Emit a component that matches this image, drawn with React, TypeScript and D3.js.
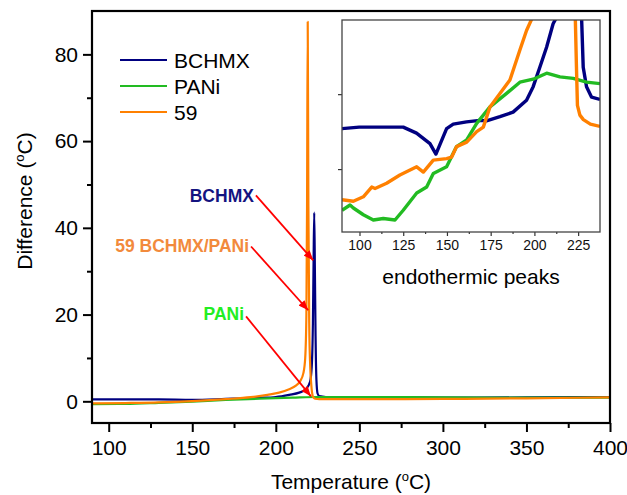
import { useEffect, useRef } from "react";
import * as d3 from "d3";

const W = 627;
const H = 495;
const FONT = "'Liberation Sans', Arial, sans-serif";

// main DTA curves: temperature (°C) and difference (°C)
const bchmxT = [90, 110, 130, 150, 170, 190, 200, 208, 214, 218, 220.5, 221.5, 222.2, 222.6, 223.0, 223.4, 223.8, 224.3, 225, 226, 230, 250, 300, 350, 400];
const bchmxV = [0.45, 0.45, 0.45, 0.35, 0.55, 0.8, 1.0, 1.5, 2.0, 2.8, 4.5, 8, 18, 32, 43.5, 30, 15, 5, 1.8, 1.2, 1.0, 1.0, 0.85, 0.9, 1.0];

const paniT = [90, 110, 130, 150, 170, 190, 210, 225, 250, 300, 350, 400];
const paniV = [-0.65, -0.6, -0.35, -0.05, 0.3, 0.6, 0.85, 1.0, 1.0, 0.9, 0.85, 0.85];

const s59T = [90, 110, 130, 150, 170, 185, 195, 202, 208, 212, 214.5, 216.5, 217.6, 218.3, 218.7, 219.1, 219.5, 220.0, 220.6, 221.2, 221.7, 222.3, 223.5, 226, 240, 270, 300, 350, 400];
const s59V = [-0.5, -0.4, -0.25, 0.05, 0.5, 0.95, 1.5, 2.0, 2.8, 3.6, 4.6, 6.5, 10, 20, 45, 87.5, 45, 18, 8, 4, 2, 1.0, 0.6, 0.5, 0.5, 0.5, 0.55, 0.7, 0.9];

// inset (endothermic peaks), arbitrary units
const inBchmxT = [90, 99.8, 114.5, 125, 132.6, 140.3, 143.7, 149.8, 153.6, 161.2, 168.8, 172.6, 180.3, 187.8, 195.5, 199.3, 203.1, 207, 210.7, 212.3, 220, 227, 227.9, 229.8, 232.7, 237.5];
const inBchmxV = [1.54, 1.56, 1.56, 1.56, 1.48, 1.34, 1.2, 1.54, 1.6, 1.63, 1.65, 1.645, 1.7, 1.76, 1.92, 2.1, 2.36, 2.63, 2.94, 3.01, 30, 3.0, 2.36, 2.1, 1.96, 1.93];

const inPaniT = [90, 94.6, 96.5, 102.2, 107.9, 113.6, 120.3, 125, 132.7, 138.4, 142.2, 149.8, 155.5, 161.3, 167, 174.6, 184.1, 191.7, 199.3, 207, 214.6, 222.2, 229.8, 237.5];
const inPaniV = [0.45, 0.52, 0.48, 0.39, 0.32, 0.34, 0.32, 0.45, 0.68, 0.76, 0.94, 1.03, 1.3, 1.39, 1.61, 1.83, 2.01, 2.16, 2.2, 2.28, 2.23, 2.21, 2.16, 2.14];

const in59T = [90, 96.5, 102.2, 107, 108.9, 115.5, 123.1, 132.7, 136.5, 142.2, 149.8, 152.7, 155.5, 161.3, 167, 170.8, 174.6, 180.3, 186, 191.7, 195.5, 198.4, 210, 223.3, 224, 224.6, 226, 228, 232, 237.5];
const in59V = [0.59, 0.57, 0.63, 0.76, 0.74, 0.81, 0.92, 1.03, 0.96, 1.12, 1.14, 1.16, 1.3, 1.36, 1.5, 1.56, 1.83, 2.01, 2.19, 2.59, 2.85, 3.0, 30, 3.1, 2.4, 1.85, 1.72, 1.66, 1.6, 1.57];

const seriesNames = ["BCHMX", "PANi", "59"];
const seriesColors = ["#000080", "#22bb22", "#ff8000"];

const xTicks = [100, 150, 200, 250, 300, 350, 400];
const xMinorTicks = [125, 175, 225, 275, 325, 375];
const yTicks = [0, 20, 40, 60, 80];
const yMinorTicks = [10, 30, 50, 70];
const insetXTicks = [100, 125, 150, 175, 200, 225];
const insetXMinorTicks = [112.5, 137.5, 162.5, 187.5, 212.5];
const insetYTicks = [1, 2];

// labels with arrows, in data units of the main plot
const annotations = [
  { label: "BCHMX", color: "#141480", tx: 186.9, ty: 45.9, fromT: 188.1, fromV: 47.5, toT: 222.4, toV: 32.5 },
  { label: "59 BCHMX/PANi", color: "#f28a3c", tx: 184.0, ty: 34.4, fromT: 185.2, fromV: 35.7, toT: 219.4, toV: 21.0 },
  { label: "PANi", color: "#22ee22", tx: 181.0, ty: 18.7, fromT: 182.2, fromV: 19.6, toT: 221.0, toV: 1.15 },
];

const App = () => {
  const canvas = useRef(null);

  useEffect(() => {
    document.body.style.margin = "0";
    drawChart();
  }, []);

  const drawChart = () => {
    d3.select(canvas.current).selectAll("*").remove();

    const svg = d3
      .select(canvas.current)
      .append("svg")
      .attr("width", W)
      .attr("height", H)
      .style("display", "block")
      .style("background", "white")
      .attr("font-family", FONT);

    const x = d3.scaleLinear().domain([90, 400]).range([92, 610]);
    const y = d3.scaleLinear().domain([-5, 90]).range([423, 11]);

    const defs = svg.append("defs");
    defs
      .append("clipPath")
      .attr("id", "mainClip")
      .append("rect")
      .attr("x", x(90))
      .attr("y", y(90))
      .attr("width", x(400) - x(90))
      .attr("height", y(-5) - y(90));
    defs
      .append("marker")
      .attr("id", "arrow")
      .attr("markerUnits", "userSpaceOnUse")
      .attr("viewBox", "0 0 10 8")
      .attr("refX", 10)
      .attr("refY", 4)
      .attr("markerWidth", 11)
      .attr("markerHeight", 8)
      .attr("orient", "auto")
      .append("path")
      .attr("d", "M0,0 L10,4 L0,8 z")
      .attr("fill", "#ff0000");

    // Axes
    const styleAxis = (g, fontSize) => {
      g.select(".domain").remove();
      g.selectAll(".tick line").attr("stroke", "black").attr("stroke-width", 2);
      g.selectAll(".tick text")
        .attr("fill", "black")
        .attr("font-size", fontSize)
        .attr("font-family", FONT);
    };

    svg
      .append("g")
      .attr("transform", `translate(0, ${y(-5)})`)
      .call(d3.axisBottom(x).tickValues(xTicks).tickSize(9).tickPadding(8).tickFormat(d3.format("d")))
      .call((g) => styleAxis(g, 21));
    svg
      .append("g")
      .attr("transform", `translate(0, ${y(-5)})`)
      .call(d3.axisBottom(x).tickValues(xMinorTicks).tickSize(5).tickFormat(() => ""))
      .call((g) => styleAxis(g, 21));
    svg
      .append("g")
      .attr("transform", `translate(${x(90)}, 0)`)
      .call(d3.axisLeft(y).tickValues(yTicks).tickSize(9).tickPadding(5).tickFormat(d3.format("d")))
      .call((g) => styleAxis(g, 21));
    svg
      .append("g")
      .attr("transform", `translate(${x(90)}, 0)`)
      .call(d3.axisLeft(y).tickValues(yMinorTicks).tickSize(5).tickFormat(() => ""))
      .call((g) => styleAxis(g, 21));

    // Axis titles
    const xt = svg
      .append("text")
      .attr("x", (x(90) + x(400)) / 2)
      .attr("y", 489)
      .attr("text-anchor", "middle")
      .attr("font-size", 21);
    xt.append("tspan").text("Temperature (");
    xt.append("tspan").attr("font-size", 13).attr("dy", -8).text("o");
    xt.append("tspan").attr("dy", 8).text("C)");

    const yt = svg
      .append("text")
      .attr("transform", `translate(32, 201) rotate(-90)`)
      .attr("text-anchor", "middle")
      .attr("font-size", 21);
    yt.append("tspan").text("Difference (");
    yt.append("tspan").attr("font-size", 13).attr("dy", -8).text("o");
    yt.append("tspan").attr("dy", 8).text("C)");

    // Curves
    const line = d3
      .line()
      .x((d) => x(d[0]))
      .y((d) => y(d[1]))
      .curve(d3.curveMonotoneX);

    const mainSeries = [
      d3.zip(bchmxT, bchmxV),
      d3.zip(paniT, paniV),
      d3.zip(s59T, s59V),
    ];
    svg
      .append("g")
      .attr("clip-path", "url(#mainClip)")
      .selectAll("path")
      .data(mainSeries)
      .join("path")
      .attr("d", (d) => line(d))
      .attr("fill", "none")
      .attr("stroke", (d, i) => seriesColors[i])
      .attr("stroke-width", 2.2)
      .attr("stroke-linejoin", "round");

    // Frame
    svg
      .append("rect")
      .attr("x", x(90))
      .attr("y", y(90))
      .attr("width", x(400) - x(90))
      .attr("height", y(-5) - y(90))
      .attr("fill", "none")
      .attr("stroke", "black")
      .attr("stroke-width", 2.2);

    // Legend
    const legend = svg.append("g").attr("transform", "translate(120, 60)");
    const legendItems = legend
      .selectAll("g")
      .data(seriesNames)
      .join("g")
      .attr("transform", (d, i) => `translate(0, ${i * 26})`);
    legendItems
      .append("line")
      .attr("x1", 0)
      .attr("x2", 47)
      .attr("stroke", (d, i) => seriesColors[i])
      .attr("stroke-width", 2.2);
    legendItems
      .append("text")
      .attr("x", 54)
      .attr("dy", "0.36em")
      .attr("font-size", 21)
      .text((d) => d);

    // Annotations
    const ann = svg.append("g");
    ann
      .selectAll("text")
      .data(annotations)
      .join("text")
      .attr("x", (d) => x(d.tx))
      .attr("y", (d) => y(d.ty))
      .attr("text-anchor", "end")
      .attr("font-size", 17.5)
      .attr("font-weight", "bold")
      .attr("fill", (d) => d.color)
      .text((d) => d.label);
    ann
      .selectAll("line")
      .data(annotations)
      .join("line")
      .attr("x1", (d) => x(d.fromT))
      .attr("y1", (d) => y(d.fromV))
      .attr("x2", (d) => x(d.toT))
      .attr("y2", (d) => y(d.toV))
      .attr("stroke", "#ff0000")
      .attr("stroke-width", 1.8)
      .attr("marker-end", "url(#arrow)");

    // Inset
    const ix = d3.scaleLinear().domain([90, 237.5]).range([342, 600]);
    const iy = d3.scaleLinear().domain([0.16, 2.99]).range([232, 20]);

    defs
      .append("clipPath")
      .attr("id", "insetClip")
      .append("rect")
      .attr("x", ix(90))
      .attr("y", iy(2.99))
      .attr("width", ix(237.5) - ix(90))
      .attr("height", iy(0.16) - iy(2.99));

    const inset = svg.append("g");
    inset
      .append("rect")
      .attr("x", ix(90))
      .attr("y", iy(2.99))
      .attr("width", ix(237.5) - ix(90))
      .attr("height", iy(0.16) - iy(2.99))
      .attr("fill", "white");

    const iline = d3
      .line()
      .x((d) => ix(d[0]))
      .y((d) => iy(d[1]));

    const insetSeries = [
      d3.zip(inBchmxT, inBchmxV),
      d3.zip(inPaniT, inPaniV),
      d3.zip(in59T, in59V),
    ];
    inset
      .append("g")
      .attr("clip-path", "url(#insetClip)")
      .selectAll("path")
      .data(insetSeries)
      .join("path")
      .attr("d", (d) => iline(d))
      .attr("fill", "none")
      .attr("stroke", (d, i) => seriesColors[i])
      .attr("stroke-width", 3.4)
      .attr("stroke-linejoin", "round");

    const styleInset = (g) => {
      g.select(".domain").remove();
      g.selectAll(".tick line").attr("stroke", "#333").attr("stroke-width", 1.2);
      g.selectAll(".tick text")
        .attr("fill", "#111")
        .attr("font-size", 14)
        .attr("font-family", FONT);
    };
    inset
      .append("g")
      .attr("transform", `translate(0, ${iy(0.16)})`)
      .call(d3.axisBottom(ix).tickValues(insetXTicks).tickSize(4).tickPadding(4).tickFormat(d3.format("d")))
      .call(styleInset);
    inset
      .append("g")
      .attr("transform", `translate(0, ${iy(0.16)})`)
      .call(d3.axisBottom(ix).tickValues(insetXMinorTicks).tickSize(2).tickFormat(() => ""))
      .call(styleInset);
    inset
      .append("g")
      .attr("transform", `translate(${ix(90)}, 0)`)
      .call(d3.axisLeft(iy).tickValues(insetYTicks).tickSize(4).tickFormat(() => ""))
      .call(styleInset);

    inset
      .append("rect")
      .attr("x", ix(90))
      .attr("y", iy(2.99))
      .attr("width", ix(237.5) - ix(90))
      .attr("height", iy(0.16) - iy(2.99))
      .attr("fill", "none")
      .attr("stroke", "#444")
      .attr("stroke-width", 1.3);

    inset
      .append("text")
      .attr("x", (ix(90) + ix(237.5)) / 2)
      .attr("y", 284)
      .attr("text-anchor", "middle")
      .attr("font-size", 21)
      .text("endothermic peaks");
  };

  return <div ref={canvas}></div>;
};

export default App;
